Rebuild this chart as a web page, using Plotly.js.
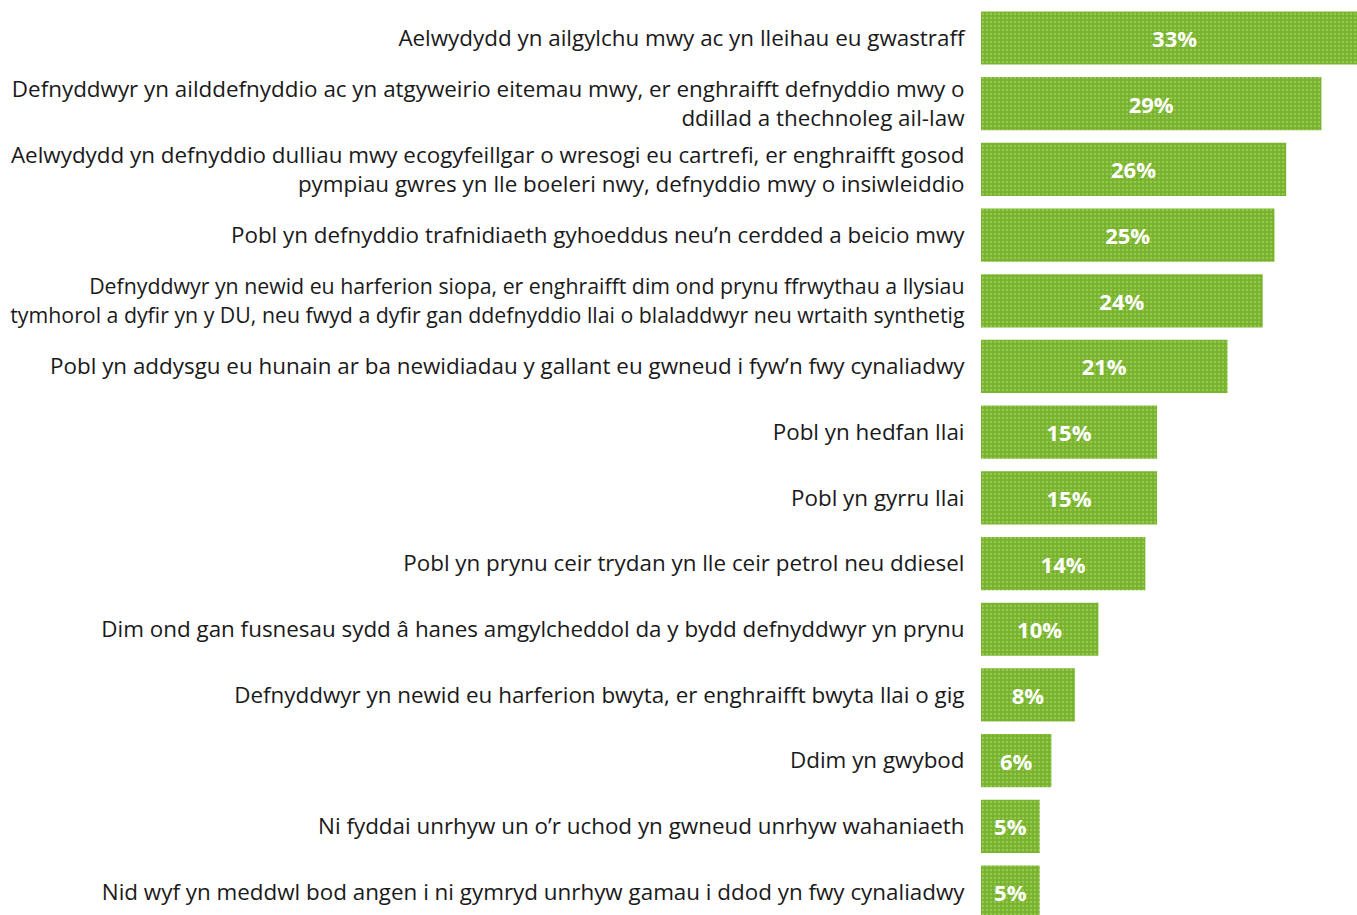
<!DOCTYPE html>
<html>
<head>
<meta charset="utf-8">
<script src="https://cdn.plot.ly/plotly-3.0.1.min.js"></script>
<style>html,body{margin:0;padding:0;background:#fff;}#chart{width:1357px;height:915px;}</style>
</head>
<body>
<div id="chart"></div>
<script>
const categories = [
  "Aelwydydd yn ailgylchu mwy ac yn lleihau eu gwastraff",
  "Defnyddwyr yn ailddefnyddio ac yn atgyweirio eitemau mwy, er enghraifft defnyddio mwy o<br>ddillad a thechnoleg ail-law",
  "Aelwydydd yn defnyddio dulliau mwy ecogyfeillgar o wresogi eu cartrefi, er enghraifft gosod<br>pympiau gwres yn lle boeleri nwy, defnyddio mwy o insiwleiddio",
  "Pobl yn defnyddio trafnidiaeth gyhoeddus neu’n cerdded a beicio mwy",
  "<span style=\"font-size:21.3px\">Defnyddwyr yn newid eu harferion siopa, er enghraifft dim ond prynu ffrwythau a llysiau<br>tymhorol a dyfir yn y DU, neu fwyd a dyfir gan ddefnyddio llai o blaladdwyr neu wrtaith synthetig</span>",
  "Pobl yn addysgu eu hunain ar ba newidiadau y gallant eu gwneud i fyw’n fwy cynaliadwy",
  "Pobl yn hedfan llai",
  "Pobl yn gyrru llai",
  "Pobl yn prynu ceir trydan yn lle ceir petrol neu ddiesel",
  "Dim ond gan fusnesau sydd â hanes amgylcheddol da y bydd defnyddwyr yn prynu",
  "Defnyddwyr yn newid eu harferion bwyta, er enghraifft bwyta llai o gig",
  "Ddim yn gwybod",
  "Ni fyddai unrhyw un o’r uchod yn gwneud unrhyw wahaniaeth",
  "Nid wyf yn meddwl bod angen i ni gymryd unrhyw gamau i ddod yn fwy cynaliadwy"
];
const values = [33, 29, 26, 25, 24, 21, 15, 15, 14, 10, 8, 6, 5, 5];
const valueLabels = values.map(v => v + "%");

const trace = {
  type: "bar",
  orientation: "h",
  y: categories,
  x: values,
  text: valueLabels,
  textposition: "inside",
  insidetextanchor: "middle",
  textangle: 0,
  textfont: {family: "Open Sans", size: 22, color: "#ffffff", weight: "bold"},
  marker: {
    color: "#7ab52f",
    line: {width: 0},
    pattern: {shape: ".", fillmode: "replace", bgcolor: "#77b22d", fgcolor: "#96c850", size: 4, solidity: 0.35}
  },
  hoverinfo: "none",
  cliponaxis: true
};

const layout = {
  width: 1357,
  height: 915,
  margin: {l: 981, r: 0, t: 0, b: 0, pad: 0},
  paper_bgcolor: "#ffffff",
  plot_bgcolor: "#ffffff",
  bargap: 0.19,
  showlegend: false,
  font: {family: "Open Sans", size: 22.4, color: "#1a1a1a"},
  xaxis: {range: [0, 32.03], visible: false, fixedrange: true},
  yaxis: {
    type: "category",
    range: [13.35, -0.5785],
    showgrid: false,
    zeroline: false,
    showline: false,
    ticks: "outside",
    ticklen: 11,
    tickcolor: "rgba(0,0,0,0)",
    tickfont: {family: "Open Sans", size: 22.4, color: "#1a1a1a"},
    automargin: false
  }
};

Plotly.newPlot("chart", [trace], layout, {displayModeBar: false, staticPlot: true});
</script>
</body>
</html>
